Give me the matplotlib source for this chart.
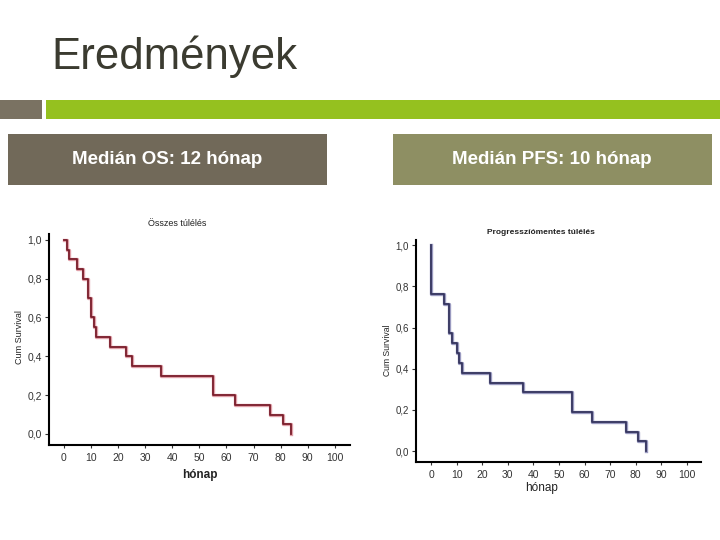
import matplotlib
matplotlib.use("Agg")
import matplotlib.pyplot as plt
from matplotlib.patches import Rectangle

plt.rcParams['font.family'] = ['Liberation Sans', 'DejaVu Sans']

# ---- data ----
os_months = [0, 1, 2, 5, 7, 9, 10, 11, 12, 17, 23, 25, 36, 55, 63, 76, 81, 84]
os_surv = [1.0, 0.95, 0.90, 0.85, 0.80, 0.70, 0.60, 0.55, 0.50, 0.45, 0.40,
           0.35, 0.30, 0.20, 0.15, 0.10, 0.05, 0.0]

pfs_months = [0, 0, 5, 7, 8, 10, 11, 12, 23, 36, 55, 63, 76, 81, 84]
pfs_surv = [1.0, 0.762, 0.714, 0.571, 0.524, 0.476, 0.429, 0.381, 0.333,
            0.286, 0.190, 0.143, 0.095, 0.048, 0.0]

x_ticks = [0, 10, 20, 30, 40, 50, 60, 70, 80, 90, 100]
y_ticks = [0.0, 0.2, 0.4, 0.6, 0.8, 1.0]
y_tick_labels = ["0,0", "0,2", "0,4", "0,6", "0,8", "1,0"]

title_text = "Eredmények"
box_texts = ["Medián OS: 12 hónap", "Medián PFS: 10 hónap"]
chart_titles = ["Összes túlélés", "Progresszíómentes túlélés"]

W, H = 720, 540
fig = plt.figure(figsize=(7.2, 5.4), dpi=100)
fig.patch.set_facecolor('white')


def rect_px(x0, y0, x1, y1, color):
    fig.patches.append(Rectangle((x0 / W, 1 - y1 / H), (x1 - x0) / W, (y1 - y0) / H,
                                 transform=fig.transFigure, facecolor=color,
                                 edgecolor='none', zorder=0))


def text_px(x, y, s, **kw):
    fig.text(x / W, 1 - y / H, s, **kw)


# header
text_px(51, 57, title_text, fontsize=31.5, color='#3b3b30', ha='left', va='center')
rect_px(0, 100, 42, 119, '#7a7262')
rect_px(46, 100, 720, 119, '#95c11f')
rect_px(8, 134, 327, 185, '#716959')
rect_px(393, 134, 712, 185, '#8e8f63')
text_px(167, 160, box_texts[0], fontsize=13.5, fontweight='bold', color='white', ha='center', va='center')
text_px(552, 160, box_texts[1], fontsize=13.5, fontweight='bold', color='white', ha='center', va='center')


def make_axes(left, bottom, right, top):
    return fig.add_axes([left / W, 1 - bottom / H, (right - left) / W, (bottom - top) / H])


def style_axes(ax, xlim, ylim):
    ax.set_xlim(*xlim)
    ax.set_ylim(*ylim)
    ax.set_xticks(x_ticks)
    ax.set_yticks(y_ticks)
    ax.set_yticklabels(y_tick_labels)
    for s in ['top', 'right']:
        ax.spines[s].set_visible(False)
    for s in ['left', 'bottom']:
        ax.spines[s].set_linewidth(1.5)
        ax.spines[s].set_color('black')
    ax.tick_params(axis='both', labelsize=7.5, colors='#333333', length=3, width=0.8, pad=2)
    ax.tick_params(axis='x', length=2, pad=4)
    ax.set_facecolor('none')


# left: OS
ax1 = make_axes(49, 445, 350, 234)
ax1.step(os_months, os_surv, where='post', color='#e0a0a8', lw=2.4, zorder=2)
ax1.step(os_months, os_surv, where='post', color='#7a1e2b', lw=1.3, zorder=3)
style_axes(ax1, (-5.5, 105.6), (-0.057, 1.03))
text_px(177, 223, chart_titles[0], fontsize=6.5, color='#222222', ha='center', va='center')
text_px(19, 337, "Cum Survival", fontsize=6.5, color='#222222', ha='center', va='center', rotation=90)
text_px(200, 475, "hónap", fontsize=8.5, fontweight='bold', color='#222222', ha='center', va='center')

# right: PFS
ax2 = make_axes(416, 462, 701, 240)
ax2.step(pfs_months, pfs_surv, where='post', color='#9a9ac0', lw=2.4, zorder=2)
ax2.step(pfs_months, pfs_surv, where='post', color='#36365f', lw=1.3, zorder=3)
style_axes(ax2, (-5.9, 105.5), (-0.053, 1.025))
ax2.tick_params(axis='y', labelsize=7)
text_px(541, 232, chart_titles[1], fontsize=6, fontweight='bold', color='#222222', ha='center', va='center')
text_px(388, 350, "Cum Survival", fontsize=6.2, color='#222222', ha='center', va='center', rotation=90)
text_px(542, 488, "hónap", fontsize=8.5, color='#222222', ha='center', va='center')

fig.savefig('out.png', dpi=100)
